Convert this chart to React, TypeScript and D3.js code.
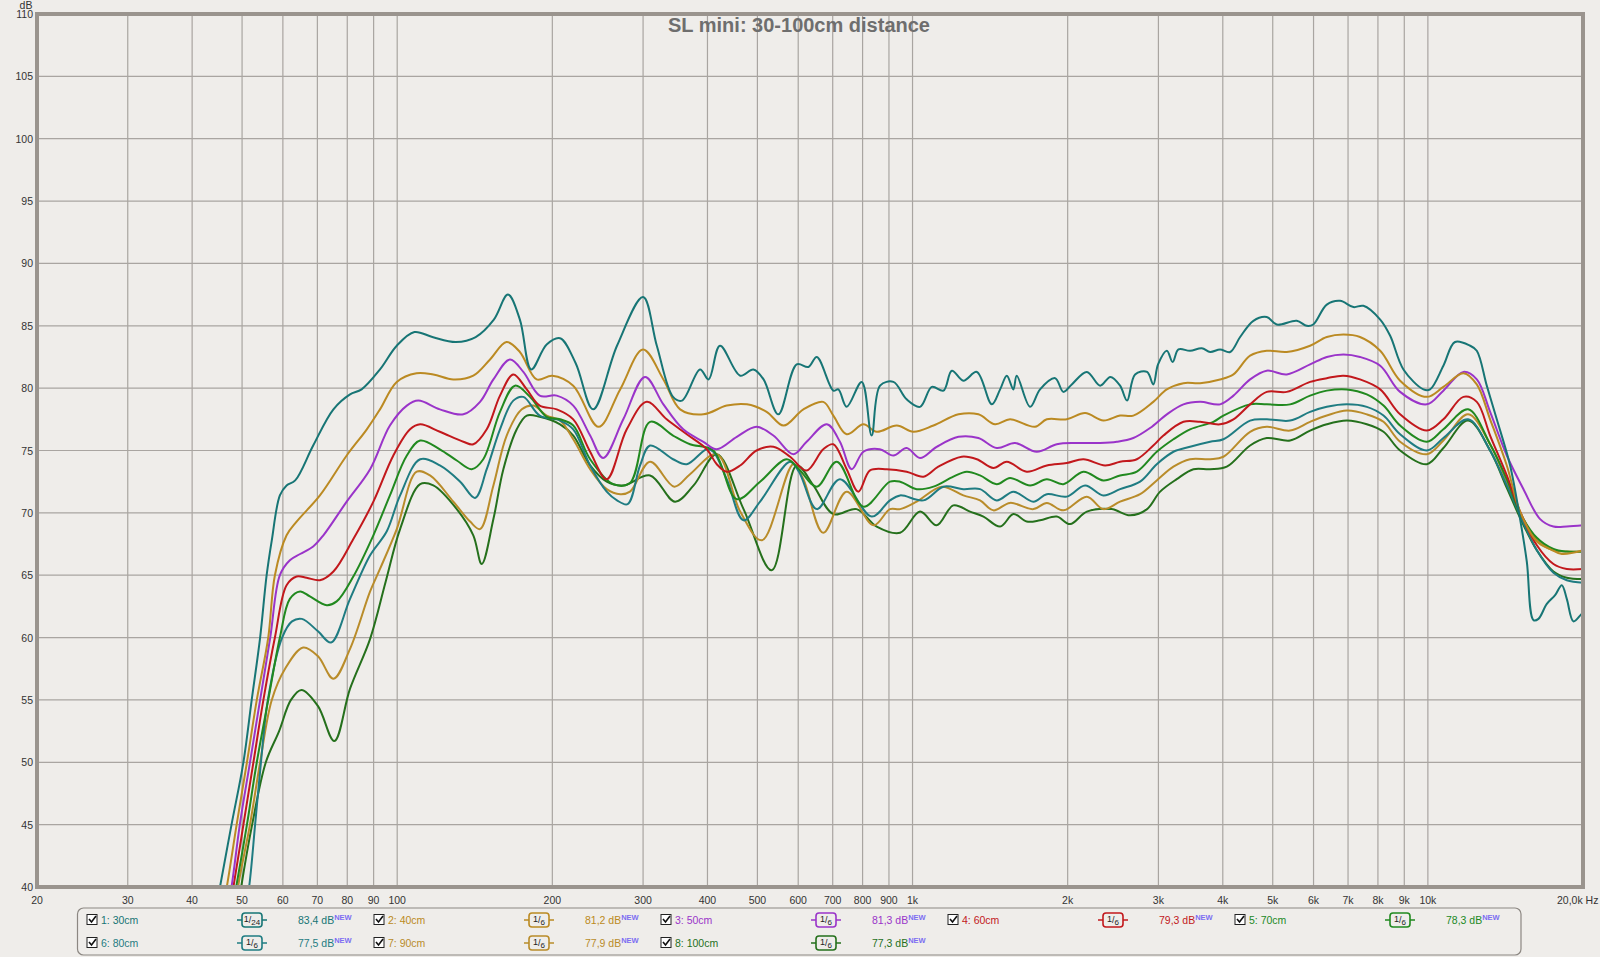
import React from 'react';
import * as d3 from 'd3';

// frequency (Hz), level (dB) pairs
const r30 = [[43.5,36],[45.3,40],[47.7,45],[50.3,50],[52.2,55],[54.2,60],[55.8,65],[57.1,67.8],[59.2,71.4],[61,72.2],[63.4,72.6],[68.7,75.4],[75.2,78.3],[81,79.5],[85.3,79.9],[92.6,81.5],[99.8,83.4],[108,84.5],[117,84.1],[130,83.7],[142,84.1],[154,85.5],[164,87.5],[173,85.5],[182,81.5],[195,83.5],[207,84],[222,82],[240,78.3],[267,83.4],[300,87.3],[319,83.4],[343,79.3],[357,79],[387,81.5],[402,80.7],[423,83.4],[463,81],[491,81.5],[514,80.7],[549,77.9],[596,81.9],[628,81.7],[652,82.5],[702,79.8],[718,79.9],[745,78.5],[797,80.5],[833,76.2],[865,80.2],[918,80.5],[974,79.1],[1034,78.5],[1090,80.1],[1148,79.8],[1192,81.4],[1255,80.6],[1333,81.3],[1425,78.7],[1479,79.9],[1524,81],[1569,79.9],[1593,81],[1691,78.5],[1768,79.9],[1891,80.8],[1962,79.7],[2037,80.3],[2179,81.3],[2312,80.2],[2420,80.9],[2528,80.2],[2608,79],[2703,81.1],[2852,81.3],[2932,80.3],[2995,81.9],[3115,83],[3197,82.1],[3281,83.1],[3456,83],[3642,83.2],[3780,82.9],[3951,83.1],[4134,82.9],[4322,84.1],[4586,85.4],[4868,85.7],[5090,85.1],[5566,85.4],[5821,85],[5990,85.1],[6366,86.7],[6755,87],[7170,86.5],[7497,86.6],[8082,85.5],[8450,84.2],[8966,81.5],[9803,79.9],[10100,79.9],[10718,81.8],[11290,83.7],[12076,83.4],[12443,83],[13011,80.2],[13606,77.5],[14440,73.8],[15100,69.5],[15558,66.1],[16028,61.4],[16390,61.5],[17014,62.7],[17656,63.4],[18192,64.2],[18602,63.1],[19160,61.3],[19778,61.8],[20000,62]];
const r40 = [[44.8,36],[46.7,40],[48.8,45],[51.1,50],[53.4,55],[56.2,60],[57.9,65],[61,68.2],[63.8,69.3],[70.8,71.4],[79.8,74.6],[87.3,76.7],[92.6,78.3],[99.8,80.5],[109,81.2],[117.5,81.1],[128.5,80.7],[140.5,81],[151.4,82.3],[163,83.7],[173,82.9],[186.5,80.7],[200,81],[219.6,80.2],[245.8,76.9],[270.8,79.9],[300,83.1],[328.5,80.7],[354,78.3],[392.8,77.9],[436,78.6],[477,78.7],[521,78.1],[562,77],[614,78.3],[671,78.9],[702,77.8],[745,76.3],[803,77.1],[852,76.5],[932,77],[1004,76.5],[1098,77],[1228,77.9],[1342,77.9],[1446,77.1],[1546,77.5],[1729,76.9],[1822,77.5],[1992,77.5],[2162,78],[2346,77.4],[2528,77.8],[2682,77.8],[2932,78.9],[3115,79.9],[3355,80.4],[3614,80.4],[3951,80.7],[4195,81.1],[4519,82.6],[4868,83],[5323,82.9],[5908,83.4],[6366,84.1],[6858,84.3],[7385,84.1],[8082,83],[8834,80.6],[9952,79.3],[10718,80.1],[11720,81.2],[12443,80.3],[13206,77.5],[14228,73.8],[15100,70.1],[16272,67.7],[17268,67.1],[18192,66.7],[20000,67]];
const r50 = [[45.9,36],[47.7,40],[49.5,45],[51.8,50],[54.2,55],[56.7,60],[59.2,65],[61.9,66.2],[64.8,66.7],[68.7,67.3],[71.9,68.2],[79.8,70.9],[88.6,73.5],[96.8,77],[104.4,78.6],[109.9,79],[121,78.3],[134.4,77.9],[144.8,78.9],[153.7,80.7],[165.5,82.3],[175.7,81.3],[189,79.4],[204,79.4],[219.6,78.6],[236.8,76.2],[251,74.4],[274.6,77.5],[302.6,80.9],[328.5,78.7],[359,76.7],[392.8,75.7],[416.8,75.1],[456,76.1],[498,76.9],[537,76.2],[587,74.7],[623,75.7],[682,77.1],[723,75.7],[762,73.5],[803,74.9],[864,75.1],[918,74.6],[974,75.2],[1034,74.4],[1114,75.3],[1228,76.1],[1342,76],[1457,75.2],[1581,75.6],[1742,74.9],[1905,75.5],[2082,75.6],[2312,75.6],[2491,75.7],[2682,76],[2890,76.8],[3115,77.9],[3355,78.7],[3614,78.9],[3951,78.7],[4195,79.4],[4519,80.7],[4868,81.4],[5323,81.1],[5908,81.9],[6366,82.5],[6858,82.7],[7385,82.5],[8082,81.8],[8834,79.7],[9952,78.7],[10718,79.8],[11720,81.3],[12443,80.7],[13206,78.1],[14228,74.6],[15328,71.9],[16514,69.5],[17526,68.9],[18602,68.9],[20000,69]];
const r60 = [[46.2,36],[48.1,40],[50.3,45],[52.6,50],[55,55],[57.9,60],[61,64.2],[63.8,64.9],[66.7,64.8],[70.8,64.6],[75.2,65.3],[82.2,67.9],[89.9,70.9],[98.3,74.6],[105.9,76.7],[110.8,77.1],[121,76.5],[134.4,75.7],[140.5,75.5],[149.2,76.7],[158.3,79.4],[168,81.1],[178.4,79.9],[189,78.6],[204,78.3],[219.6,77.5],[236.8,74.9],[255,72.7],[278.9,76.7],[304.9,78.9],[333.4,77.5],[364.7,76.3],[398.8,75.1],[417,73.9],[436,73.3],[463,73.8],[498,75],[537,75.3],[578.6,74.5],[623,73.4],[671,75.1],[702,75.5],[745,73.5],[785,71.7],[827,73.4],[891,73.5],[974,73.3],[1050,72.9],[1122,73.7],[1246,74.5],[1333,74.3],[1435,73.6],[1524,74.1],[1666,73.3],[1822,73.8],[1992,74],[2146,74.3],[2364,73.8],[2528,74.1],[2724,74.3],[2932,75.4],[3068,76.2],[3355,77.3],[3614,77.3],[3951,77.1],[4195,77.5],[4519,78.7],[4868,79.7],[5323,79.7],[5908,80.5],[6366,80.8],[6858,81],[7385,80.7],[8082,79.9],[8834,77.9],[9952,76.6],[10718,77.5],[11720,79.3],[12443,78.9],[13206,76.2],[14228,73],[15100,70.1],[16272,67.4],[17526,65.9],[18602,65.5],[20000,65.5]];
const r70 = [[46.7,36],[48.7,40],[51.1,45],[53.4,50],[56.2,55],[59.2,60],[61.9,63.1],[64.8,63.7],[67.7,63.3],[73,62.6],[76.3,62.9],[82.2,64.9],[89.9,68.2],[96.8,71.4],[104.4,74.6],[110.8,75.8],[121,75.1],[130.5,74.2],[139.5,73.5],[146.9,74.3],[158.3,78.1],[169.3,80.2],[181,79.3],[195,77.7],[207,77.5],[219.6,77],[236.8,74.3],[262.6,72.3],[283,72.4],[309.5,77.3],[343,76.2],[370,75.5],[410.6,75],[456,71.1],[506,72.5],[570,74.3],[602,73.5],[652,72.1],[713,74.1],[803,70.5],[904,72.5],[946,72.5],[1019,71.9],[1098,72.1],[1200,72.9],[1274,73.3],[1352,73],[1457,72.3],[1546,72.8],[1691,72.2],[1822,72.7],[1962,72.3],[2146,73.3],[2346,72.6],[2528,73],[2724,73.3],[2978,74.9],[3208,75.9],[3456,76.7],[3835,77.3],[4011,77.8],[4519,78.7],[4868,78.7],[5403,78.7],[5908,79.4],[6366,79.8],[6963,79.9],[7612,79.5],[8202,78.6],[8834,77],[9952,75.7],[10718,76.7],[11969,78.3],[13206,75.5],[14228,72.7],[15100,70],[16272,68],[17526,67.1],[18602,66.9],[20000,66.9]];
const r80 = [[49.8,36],[51.6,40],[53,45],[54.4,50],[56.1,55],[59.8,60],[62.5,61.3],[65.3,61.5],[70.2,60.5],[74.4,59.6],[81,63.1],[88.6,66.6],[95.4,68.5],[101.3,71.4],[110.8,74.3],[121,73.8],[132.5,72.5],[141.6,71.2],[149.2,73.5],[158.3,76.7],[168,79],[175.7,79.3],[189,77.8],[207,77.4],[219.6,76.7],[236.8,73.8],[255,71.7],[267,71],[280,70.7],[296,73.8],[309.5,75.4],[343,74.3],[364.7,73.9],[398.8,75.1],[410.6,74.9],[436,72.7],[470,69.4],[506,70.9],[578.6,74.1],[602,73.3],[652,70.3],[723,72.7],[833,69.7],[904,71],[946,71.4],[1050,71],[1148,72.1],[1255,71.9],[1352,71.9],[1457,71],[1570,71.7],[1716,70.9],[1822,71.5],[1992,71.3],[2162,72.2],[2346,71.4],[2528,71.9],[2764,72.5],[2978,73.9],[3208,74.9],[3456,75.3],[3780,75.7],[4011,75.9],[4519,77.4],[4868,77.5],[5403,77.4],[5908,78.1],[6366,78.5],[6963,78.7],[7612,78.5],[8202,77.8],[8834,76.3],[9952,75],[10718,76],[11969,77.5],[13206,75],[14228,72.2],[15100,69.8],[16272,67],[17526,65.2],[18602,64.6],[20000,64.4]];
const r90 = [[47.8,36],[49.1,40],[51.8,45],[54.2,50],[57.1,55],[60.6,57.5],[65.7,59.2],[70.2,58.5],[75.2,56.7],[81,59.1],[88.6,63.7],[92.6,65.5],[99.8,68.7],[109.1,73.3],[115.8,73],[128.5,70.9],[138.5,69.3],[144.8,68.7],[153.7,72.2],[163.1,76.2],[174.5,78.3],[183.8,78.6],[195,77.8],[207,77.4],[219.6,75.9],[236.8,73.5],[255,71.9],[271,71.5],[283,71.7],[309.5,74.1],[345,72.1],[370,73.1],[416.8,74.7],[463,70.1],[510,67.8],[587,73.9],[614,72.7],[671,68.4],[745,71.7],[840,69],[904,70.3],[946,70.3],[1019,70.9],[1140,72.1],[1255,71.4],[1352,71],[1435,70.2],[1546,70.8],[1716,70.3],[1822,70.8],[1962,70.2],[2179,71.3],[2346,70.3],[2528,70.9],[2764,71.5],[2978,72.6],[3208,73.7],[3456,74.3],[3780,74.3],[4011,74.5],[4519,76.5],[4868,76.9],[5403,76.6],[5908,77.3],[6366,77.8],[6963,78.2],[7612,77.9],[8202,77.3],[8834,75.7],[9952,74.7],[10718,75.8],[11969,77.9],[13206,75.5],[14228,72.5],[15100,70],[16272,67.8],[17526,67],[18602,66.9],[20000,66.9]];
const r100 = [[48.2,36],[49.8,40],[52.3,45],[55.6,50],[59,52.5],[62.2,55],[65.2,55.8],[70.2,54.5],[75.5,51.7],[81,55.9],[88.6,59.9],[95,64.5],[101.3,68.7],[110.8,72.3],[117.5,72.2],[130.5,70.3],[140.5,68.2],[145.9,65.9],[153.7,69.5],[160.7,73.5],[170.6,76.7],[178.4,77.8],[189,77.7],[207,77.1],[219.6,76.2],[236.8,73.8],[255,72.5],[274.6,72.2],[309.5,73],[346,70.9],[376,72.2],[416.8,74.7],[470,70.3],[533,65.4],[596,73.8],[642,72.2],[702,69.9],[779,70.3],[852,68.9],[946,68.4],[1034,70.1],[1114,69],[1200,70.6],[1293,70.1],[1373,69.7],[1479,68.9],[1570,69.9],[1666,69.3],[1768,69.4],[1905,69.7],[2022,69.1],[2179,70.1],[2432,70.3],[2643,69.8],[2852,70.3],[3023,71.7],[3256,72.7],[3508,73.5],[3780,73.5],[4072,73.7],[4519,75.4],[4868,76],[5403,75.8],[5908,76.6],[6366,77.1],[6963,77.4],[7612,77.1],[8202,76.5],[8834,75],[9952,73.9],[10718,75.2],[11969,77.4],[13206,75],[14228,72],[15100,69.6],[16272,67],[17526,65.3],[18602,64.8],[20000,64.7]];

const names = ['1: 30cm', '2: 40cm', '3: 50cm', '4: 60cm', '5: 70cm', '6: 80cm', '7: 90cm', '8: 100cm'];
const smoothing = [24, 6, 6, 6, 6, 6, 6, 6];
const levels = ['83,4', '81,2', '81,3', '79,3', '78,3', '77,5', '77,9', '77,3'];
const curves = [r30, r40, r50, r60, r70, r80, r90, r100];

const yTicks = d3.range(40, 111, 5);
const gridFreqs = [30, 40, 50, 60, 70, 80, 90, 100, 200, 300, 400, 500, 600, 700, 800, 900,
  1000, 2000, 3000, 4000, 5000, 6000, 7000, 8000, 9000, 10000];
const freqLabels = ['20', '30', '40', '50', '60', '70', '80', '90', '100', '200', '300', '400', '500',
  '600', '700', '800', '900', '1k', '2k', '3k', '4k', '5k', '6k', '7k', '8k', '9k', '10k'];
const labelFreqs = [20, ...gridFreqs];

const colors = ['#177575', '#bb8a22', '#9a34c9', '#c2181c', '#21891f', '#1f7c82', '#b98c2a', '#25701c'];
const FONT = '"Liberation Sans", Arial, sans-serif';

const left = 37, right = 1583, top = 14, bottom = 887;

function App() {
  const x = d3.scaleLog().domain([20, 20000]).range([left, right]);
  const y = d3.scaleLinear().domain([40, 110]).range([bottom, top]);

  const line = d3.line<number[]>()
    .x(d => x(d[0]))
    .y(d => y(d[1]))
    .curve(d3.curveCatmullRom.alpha(0.5));

  const legend = names.map((name, i) => {
    const col = i < 5 ? i : i - 5;
    const row = i < 5 ? 0 : 1;
    const cx = col * 287;
    const cy = row === 0 ? 920 : 943;
    const c = colors[i];
    return (
      <g key={name} fontFamily={FONT} fontSize={10.5}>
        <rect x={87 + cx} y={cy - 5.5} width={10} height={10} fill="#fff" stroke="#222" strokeWidth={1} />
        <path d={`M${89 + cx},${cy - 1} l2.5,3 l4.5,-6`} fill="none" stroke="#111" strokeWidth={1.6} />
        <text x={101 + cx} y={cy + 3.5} fill={c}>{name}</text>
        <line x1={237 + cx} x2={267 + cx} y1={cy} y2={cy} stroke={c} strokeWidth={1.5} />
        <rect x={242 + cx} y={cy - 7} width={20} height={14} rx={3} fill="#efedea" stroke={c} strokeWidth={1.6} />
        <text x={252 + cx} y={cy + 3.5} fill="#222" fontSize={9} textAnchor="middle">
          <tspan dy={-2}>1</tspan><tspan dy={1}>/</tspan><tspan dy={2} fontSize={8}>{smoothing[i]}</tspan>
        </text>
        <text x={298 + cx} y={cy + 3.5} fill={c}>
          {levels[i]} dB<tspan dy={-4} fontSize={7.5} fontWeight="bold" fill="#7d6ef2">NEW</tspan>
        </text>
      </g>
    );
  });

  return (
    <svg width={1600} height={957} style={{position: 'absolute', left: 0, top: 0, background: '#efedea'}}>
      <defs>
        <clipPath id="plot">
          <rect x={left} y={top} width={right - left} height={bottom - top} />
        </clipPath>
      </defs>
      <rect x={0} y={0} width={1600} height={957} fill="#efedea" />

      {gridFreqs.map(f => (
        <line key={'v' + f} x1={x(f)} x2={x(f)} y1={top} y2={bottom} stroke="#a9a5a1" strokeWidth={1.2} />
      ))}
      {yTicks.map(v => (
        <line key={'h' + v} x1={left} x2={right} y1={y(v)} y2={y(v)} stroke="#a9a5a1" strokeWidth={1.2} />
      ))}

      <g clipPath="url(#plot)">
        {curves.map((d, i) => (
          <path key={names[i]} d={line(d) ?? ''} fill="none" stroke={colors[i]} strokeWidth={2}
                strokeLinejoin="round" />
        )).reverse()}
      </g>

      <rect x={left} y={top} width={right - left} height={bottom - top} fill="none" stroke="#9a948e" strokeWidth={4} />

      <text x={799} y={32} textAnchor="middle" fontFamily={FONT} fontWeight="bold" fontSize={20} fill="#6e6e6e">
        SL mini: 30-100cm distance
      </text>

      <g fontFamily={FONT} fontSize={10.5} fill="#333">
        <text x={26} y={9} textAnchor="middle">dB</text>
        {yTicks.map(v => (
          <text key={'yl' + v} x={33} y={y(v) + 4} textAnchor="end">{v}</text>
        ))}
        {labelFreqs.map((f, i) => (
          <text key={'xl' + f} x={x(f)} y={904} textAnchor="middle">{freqLabels[i]}</text>
        ))}
        <text x={1557} y={904}>20,0k Hz</text>
      </g>

      <rect x={77.5} y={908} width={1443.5} height={47} rx={6} fill="none" stroke="#8c8782" strokeWidth={1.2} />
      {legend}
    </svg>
  );
}

export default App;
